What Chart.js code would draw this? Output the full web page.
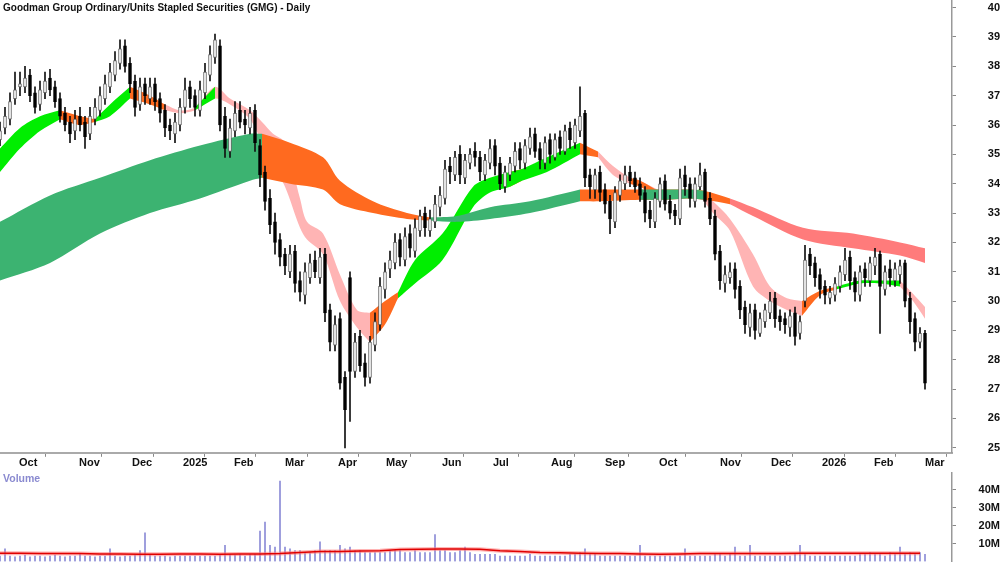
<!DOCTYPE html>
<html><head><meta charset="utf-8">
<script src="https://cdn.jsdelivr.net/npm/chart.js@4.4.1/dist/chart.umd.min.js"></script>
<style>
html,body{margin:0;padding:0;background:#fff;width:1000px;height:562px;overflow:hidden;font-family:"Liberation Sans",Arial,sans-serif;position:relative}
#pc{position:absolute;left:0;top:-10px}
#vc{position:absolute;left:0;top:462px}
#title{position:absolute;left:3px;top:2px;font-weight:bold;font-size:10px;color:#111}
#vol{position:absolute;left:3px;top:472px;font-weight:bold;font-size:10.5px;color:#8a8ad0}
</style></head><body>
<canvas id="pc" width="1000" height="480"></canvas>
<canvas id="vc" width="1000" height="110"></canvas>
<div id="title">Goodman Group Ordinary/Units Stapled Securities (GMG) - Daily</div>
<div id="vol">Volume</div>
<script>
// candles: one per 2 trading days
const opens=[35.5,35.9,36.2,36.9,37.3,37.3,37.7,37.1,36.7,37.1,37.6,37.3,36.9,36.4,36.1,35.8,36.3,36.1,35.7,36.2,36.5,36.9,37.3,37.7,38.1,38.7,38.1,37.5,36.7,37.4,36.9,37.4,36.9,36.5,36.0,35.7,36.0,36.6,37.3,37.0,36.5,37.1,37.7,38.3,38.7,36.3,35.1,35.8,36.5,36.2,35.9,36.5,35.3,34.4,33.5,32.7,32.1,31.6,31.0,31.7,30.7,30.2,30.8,31.4,30.8,31.6,29.7,28.5,29.4,27.4,30.8,27.6,28.8,27.9,27.4,28.5,29.2,30.4,31.1,31.3,32.1,31.4,32.3,31.7,32.4,33.0,32.4,32.7,33.2,33.5,34.6,34.3,35.0,34.2,34.7,35.1,34.9,34.3,34.7,35.3,34.7,33.9,34.3,34.6,35.2,34.7,35.2,35.7,35.2,34.7,35.5,34.9,35.6,35.1,35.9,35.4,35.8,36.4,34.3,33.8,34.4,33.8,33.4,32.7,33.6,34.0,34.4,34.2,34.0,33.7,33.1,32.7,33.4,34.1,33.4,33.1,32.8,34.3,34.0,33.4,33.9,34.4,33.5,32.9,31.7,30.6,30.8,31.1,30.5,29.8,29.1,29.7,28.9,29.3,29.6,30.1,29.5,29.4,29.1,29.6,28.9,30.0,31.6,31.3,30.9,30.5,30.1,30.2,30.5,30.9,31.5,30.8,30.2,31.1,30.7,31.2,31.6,30.4,31.1,30.7,30.9,31.3,30.1,29.4,28.6,28.9];
const highs=[36.1,36.6,37.1,37.8,37.8,38.0,37.9,37.3,37.5,37.8,37.9,37.5,37.1,36.6,36.3,36.5,36.6,36.3,36.6,36.9,37.3,37.7,38.1,38.5,38.9,38.9,38.3,37.7,37.6,37.6,37.6,37.6,37.1,36.7,36.2,36.4,36.9,37.6,37.5,37.2,37.5,38.1,38.7,39.1,38.9,36.6,36.2,36.8,36.8,36.5,36.6,36.7,35.5,34.6,33.8,33.0,32.3,31.8,31.9,31.9,31.0,31.3,31.6,31.7,31.8,31.8,29.9,29.5,29.6,27.6,31.0,28.9,29.0,28.2,28.8,29.6,30.8,31.3,31.7,32.3,32.3,32.5,32.6,32.8,33.1,33.2,33.1,33.6,33.9,34.8,34.9,35.1,35.3,35.0,35.2,35.4,35.1,35.0,35.5,35.5,34.9,34.6,34.9,35.4,35.4,35.5,35.9,35.9,35.4,35.6,35.7,35.7,35.8,36.0,36.1,36.2,37.3,36.5,34.5,34.5,34.6,34.0,33.6,33.9,34.3,34.6,34.6,34.4,34.2,33.9,33.4,33.7,34.2,34.3,33.6,33.3,34.5,34.6,34.2,34.2,34.7,34.5,33.7,33.1,31.9,31.2,31.3,31.3,30.7,30.0,29.9,29.9,29.6,29.9,30.3,30.3,29.7,29.6,29.7,29.8,29.5,31.9,31.8,31.5,31.1,30.7,30.5,30.8,31.2,31.8,31.7,31.0,31.2,31.3,31.5,31.8,31.7,31.2,31.4,31.3,31.4,31.4,30.3,29.6,29.1,29.0];
const lows=[35.3,35.7,36.0,36.7,37.0,37.1,36.8,36.4,36.5,36.9,37.0,36.6,36.1,35.8,35.4,35.5,35.8,35.2,35.5,36.0,36.3,36.7,37.1,37.5,37.9,37.8,37.1,36.3,36.5,36.7,36.7,36.5,36.1,35.6,35.5,35.4,35.8,36.4,36.6,36.3,36.3,36.9,37.5,38.1,35.8,34.9,34.9,35.6,35.9,35.7,35.7,35.1,33.9,33.1,32.3,31.6,31.2,30.9,30.8,30.3,30.0,29.9,30.6,30.8,30.6,29.3,28.3,28.3,27.0,25.0,25.9,27.4,27.6,27.1,27.2,28.3,29.0,30.1,30.8,31.1,31.2,31.2,31.5,31.5,32.2,32.2,32.2,32.5,32.9,33.3,34.0,34.1,34.0,34.0,34.5,34.6,34.1,34.1,34.5,34.3,33.8,33.7,34.1,34.4,34.5,34.5,35.0,34.9,34.5,34.5,34.7,34.8,35.0,35.0,35.2,35.2,35.6,33.9,33.5,33.5,33.4,33.0,32.3,32.5,33.4,33.8,33.9,33.7,33.4,32.7,32.5,32.5,33.2,33.1,32.8,32.6,32.6,33.6,33.2,33.2,33.8,33.2,32.6,31.4,30.4,30.3,30.6,30.1,29.4,28.9,28.8,28.7,28.8,29.1,29.4,29.1,29.0,28.9,28.8,28.5,28.7,29.8,30.9,30.5,30.1,29.9,29.9,30.0,30.3,30.7,30.4,30.0,30.0,30.5,30.5,30.9,28.9,30.2,30.5,30.5,30.6,29.8,28.9,28.3,28.4,27.0];
const closes=[35.8,36.3,36.8,37.2,37.4,37.6,37.0,36.6,37.2,37.5,37.2,36.8,36.3,36.0,35.7,36.2,36.0,35.6,36.3,36.6,37.0,37.4,37.8,38.2,38.6,38.0,37.4,36.6,37.3,37.0,37.3,36.8,36.4,35.9,35.8,36.1,36.6,37.2,36.9,36.6,37.2,37.8,38.4,38.9,36.0,35.2,35.9,36.4,36.1,36.0,36.4,35.4,34.3,33.4,32.6,32.0,31.5,31.2,31.6,30.6,30.3,31.0,31.3,31.0,31.5,29.6,28.6,29.2,27.2,26.3,27.6,28.6,27.8,27.4,28.6,29.3,30.5,31.0,31.4,32.0,31.5,32.2,31.8,32.5,32.9,32.5,32.8,33.3,33.6,34.5,34.4,34.9,34.3,34.8,35.0,34.9,34.4,34.8,35.2,34.6,34.0,34.4,34.7,35.1,34.8,35.3,35.6,35.1,34.8,35.4,35.0,35.5,35.2,35.8,35.5,36.0,36.3,34.2,33.9,34.3,33.7,33.3,32.8,33.7,34.1,34.3,34.1,33.9,33.6,33.0,32.8,33.5,34.0,33.3,33.0,32.9,34.2,33.9,33.5,34.0,34.3,33.4,32.8,31.6,30.7,30.9,31.0,30.4,29.7,29.2,29.6,29.0,29.4,29.7,30.0,29.4,29.3,29.2,29.5,28.8,29.3,31.4,31.2,30.8,30.4,30.2,30.3,30.6,31.0,31.4,30.7,30.3,31.0,30.8,31.3,31.5,30.5,31.0,30.8,31.1,31.2,30.0,29.3,28.6,28.9,27.2];
const volumes=[3,7,3,2.5,3,3.5,2.5,3,3,2.5,3,3.5,3,2.5,3,3,4,3,3,2.5,3,3,7,3,2.5,3,3,3.5,6,16,4,3,3,3,2.5,3,3,3,3,3,3,3,3,3,3.5,9,4,3.5,4,3,4,4,17,22,9,8,45,8,7,6,6,5,5,6,11,6,6,6,9,7,8,6,6,5,5,5,5,5,6,6,6,5,5,6,5,5,5,15,6,6,5,5,6,8,5,4,4,4,4,4,3,3,3,3,3,3,4,3,3,3,3,3,3,3,4,4,5,7,4,4,3,3,3,3,3,3,3,3,9,3,3,3,3,3,3,2.5,3,7,3,3,3,3,3,4,4,3,4,8,3,3,9,3,3,3,3,3,3,3,3,4,9,4,3,3,3,3,3,3,3,3,3,3,4,4,5,4,4,3,5,4,8,4,5,4,5,4];
const volAvg=[4.6,4.6,4.4,4.4,4.4,4.2,4.2,4.0,4.0,4.2,4.2,4.0,4.2,4.2,4.4,5.0,5.6,5.6,5.8,6.0,6.6,6.8,7.0,7.0,6.8,6.0,5.5,5.0,4.8,4.6,4.4,4.4,4.2,4.0,4.2,4.4,4.4,4.4,4.4,4.4,4.6,4.6,4.6,4.6,4.6,4.6,4.6];
// short-term ribbon (day index, upper, lower, trend class)
const shortDay=[0,8,16,24,32,38,44,52,60,66,72,78,86,92,100,104.8,109.2,114,120,122.8,129.2,136,142.8,148,154,159.2,166,177,189.2,196,204,208.8,218.8,232,239.2,245.2,252,256,265.2,272,280,285.2,292,301.2,308,314.8,320.8,328,334.8,344,352,360,365.2,370];
const shortUp=[35.2,35.9,36.3,36.5,36.3,36.2,36.7,37.3,37.0,36.7,36.5,36.6,37.3,36.9,36.5,36.1,35.7,35.4,33.5,32.7,32.3,30.9,29.7,29.6,30.0,30.3,31.4,32.3,33.9,34.2,34.4,34.5,34.9,35.4,35.1,34.6,34.2,34.1,33.7,33.7,33.8,33.4,32.8,31.6,30.5,30.1,30.0,30.35,30.5,30.7,30.7,30.7,30.25,29.8];
const shortLo=[34.4,35.2,35.8,36.2,36.0,36.1,36.3,36.9,36.7,36.5,36.4,36.5,36.9,36.7,36.2,35.4,34.6,33.9,32.5,32.1,31.6,30.0,29.1,28.6,29.2,30.1,30.6,31.4,33.2,33.7,33.9,34.1,34.4,35.0,34.9,34.3,34.0,33.9,33.5,33.6,33.6,33.0,32.4,30.5,30.0,29.7,29.5,30.2,30.4,30.6,30.6,30.5,30.0,29.4];
const shortCls=['g','g','g','o','o','g','g','o','o','p','p','g','p','p','p','p','p','p','p','p','p','p','p','o','o','g','g','g','g','g','o','g','g','o','p','p','o','p','o','g','p','p','p','p','p','p','o','o','g','g','g','p','p','p'];
// long-term ribbon
const longDay=[0,20,40,60,80,100,104.8,116,129.2,136,149.2,162.8,172,182.8,196,212,232,240,256,264,276,282,292,301.2,321.2,341.2,360,370];
const longUp=[32.7,33.6,34.2,34.8,35.3,35.7,35.7,35.4,34.9,34.1,33.4,33.0,32.85,32.9,33.2,33.4,33.8,33.8,33.8,33.8,33.8,33.75,33.5,33.2,32.5,32.3,32.0,31.8];
const longLo=[30.7,31.3,32.3,33.0,33.5,34.1,34.2,34.0,33.8,33.3,33.0,32.8,32.75,32.7,32.8,33.0,33.4,33.4,33.45,33.45,33.5,33.45,33.3,32.9,32.1,31.8,31.55,31.3];
const longCls=['G','G','G','G','G','G','o','o','o','o','o','o','G','G','G','G','o','o','G','o','G','o','R','R','R','R','R','R'];
const monthDays=[6,30,51.2,71.6,92,112.4,133.6,152.8,175.2,195.6,218.8,240.4,262,286.4,306.8,327.2,348,368.4];
const monthLabels=['Oct','Nov','Dec','2025','Feb','Mar','Apr','May','Jun','Jul','Aug','Sep','Oct','Nov','Dec','2026','Feb','Mar'];
const priceTicks=[25,26,27,28,29,30,31,32,33,34,35,36,37,38,39,40];
const volTicks=[10,20,30,40];

const COL={g:'#00ee00',o:'#ff6a1f',p:'#ffb4b4',G:'#3cb371',R:'#ff7b7b'};
const XMAX=380.8;
function bandSets(days,up,lo,cls){
  const out=[];
  [...new Set(cls)].forEach(c=>{
    const u=[],l=[];
    days.forEach((d,i)=>{
      const on=cls[i]===c||(i>0&&cls[i-1]===c);
      u.push({x:d,y:on?up[i]:null});l.push({x:d,y:on?lo[i]:null});
    });
    out.push({type:'line',data:u,borderWidth:0,pointRadius:0,fill:false,order:10,spanGaps:false,tension:0.3});
    out.push({type:'line',data:l,borderWidth:0,pointRadius:0,fill:'-1',backgroundColor:COL[c],order:10,spanGaps:false,tension:0.3});
  });
  return out;
}
const cdx=opens.map((_,i)=>i*2);
const ds=[...bandSets(longDay,longUp,longLo,longCls),...bandSets(shortDay,shortUp,shortLo,shortCls)];
ds.push({type:'bar',data:cdx.map((x,i)=>({x,y:[lows[i],highs[i]]})),backgroundColor:'#111',barThickness:1,order:2,grouped:false});
ds.push({type:'bar',data:cdx.map((x,i)=>({x,y:[opens[i],closes[i]]})),
  backgroundColor:cdx.map((_,i)=>closes[i]>=opens[i]?'#fff':'#000'),
  borderColor:cdx.map((_,i)=>closes[i]>=opens[i]?'#666':'#000'),borderWidth:1,borderSkipped:false,barThickness:3,order:1,grouped:false});
const tickFont={family:'"Liberation Sans",Arial',size:11,weight:'bold'};
new Chart(document.getElementById('pc'),{
  data:{datasets:ds},
  options:{responsive:false,animation:false,plugins:{legend:{display:false},tooltip:{enabled:false}},
    layout:{padding:0},
    scales:{
      x:{type:'linear',min:0,max:XMAX,offset:false,
        afterBuildTicks:s=>{s.ticks=monthDays.map(v=>({value:v}));},
        ticks:{callback:(v,i)=>monthLabels[i],align:'start',labelOffset:4,color:'#111',font:tickFont,maxRotation:0,autoSkip:false,padding:0},
        grid:{drawOnChartArea:false,drawTicks:true,tickLength:4,color:'#888'},
        border:{color:'#aaa',width:2}},
      y:{position:'right',min:24.83,max:40.24,
        afterBuildTicks:s=>{s.ticks=priceTicks.map(v=>({value:v}));},
        afterFit:s=>{s.width=48;},
        ticks:{color:'#111',font:tickFont,crossAlign:'far',padding:4},
        grid:{drawOnChartArea:false,drawTicks:true,tickLength:4,color:'#888'},
        border:{color:'#999',width:1.5}}
    }}
});
new Chart(document.getElementById('vc'),{
  data:{datasets:[
    {type:'line',data:volAvg.map((v,i)=>({x:i*8,y:v})),borderColor:'rgba(255,120,120,0.55)',borderWidth:4,pointRadius:0,order:2},
    {type:'line',data:volAvg.map((v,i)=>({x:i*8,y:v})),borderColor:'#e00000',borderWidth:1.5,pointRadius:0,order:1},
    {type:'bar',data:cdx.map((x,i)=>({x,y:volumes[i]})),backgroundColor:'#8c8cd6',barThickness:1,order:3}
  ]},
  options:{responsive:false,animation:false,plugins:{legend:{display:false},tooltip:{enabled:false}},
    layout:{padding:0},
    scales:{
      x:{type:'linear',min:0,max:XMAX,offset:false,display:false},
      y:{position:'right',min:0,max:49.7,
        afterBuildTicks:s=>{s.ticks=volTicks.map(v=>({value:v}));},
        afterFit:s=>{s.width=48;},
        ticks:{color:'#111',font:tickFont,crossAlign:'far',padding:4,callback:v=>v+'M'},
        grid:{drawOnChartArea:false,drawTicks:true,tickLength:4,color:'#888'},
        border:{color:'#999',width:1.5}}
    }}
});
</script></body></html>
